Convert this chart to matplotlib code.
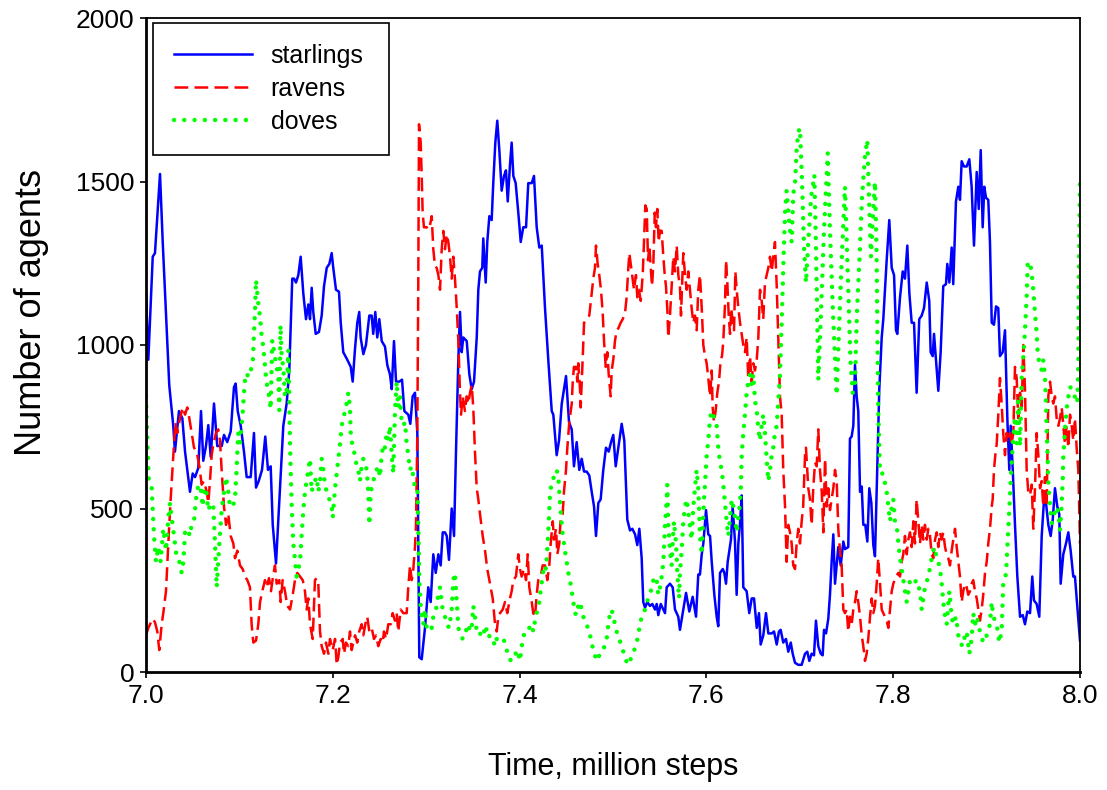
import matplotlib
matplotlib.use('Agg')
import matplotlib.pyplot as plt

# values: (time in million steps, number of agents)
starlings = [
    (7.0000, 1158), (7.0025, 955), (7.0072, 1270), (7.0096, 1281), (7.0150, 1523), (7.0179, 1315), (7.0249, 877), (7.0292, 753), (7.0310, 674), (7.0353, 798),
    (7.0389, 776), (7.0418, 674), (7.0471, 551), (7.0500, 607), (7.0525, 596), (7.0560, 624), (7.0589, 798), (7.0613, 646), (7.0642, 691), (7.0667, 755),
    (7.0693, 658), (7.0728, 821), (7.0763, 691), (7.0811, 691), (7.0835, 725), (7.0870, 703), (7.0907, 736), (7.0942, 871), (7.0960, 882), (7.0982, 798),
    (7.1014, 753), (7.1049, 674), (7.1078, 596), (7.1121, 596), (7.1156, 731), (7.1178, 564), (7.1207, 584), (7.1242, 618), (7.1277, 720), (7.1306, 618),
    (7.1335, 629), (7.1357, 450), (7.1392, 332), (7.1470, 753), (7.1506, 821), (7.1534, 922), (7.1566, 1203), (7.1585, 1203), (7.1606, 1191), (7.1631, 1214),
    (7.1656, 1270), (7.1684, 1158), (7.1713, 1079), (7.1738, 1124), (7.1756, 1079), (7.1774, 1175), (7.1791, 1101), (7.1817, 1034), (7.1852, 1040), (7.1881, 1090),
    (7.1906, 1180), (7.1935, 1236), (7.1963, 1248), (7.1988, 1281), (7.2005, 1236), (7.2034, 1169), (7.2066, 1163), (7.2085, 1068), (7.2112, 978), (7.2155, 955),
    (7.2192, 933), (7.2213, 888), (7.2238, 989), (7.2262, 1068), (7.2283, 1101), (7.2298, 1023), (7.2327, 972), (7.2355, 1000), (7.2391, 1090), (7.2416, 1090),
    (7.2433, 1034), (7.2455, 1101), (7.2476, 1023), (7.2498, 1079), (7.2524, 1012), (7.2559, 995), (7.2584, 938), (7.2612, 910), (7.2631, 865), (7.2655, 1012),
    (7.2677, 888), (7.2712, 888), (7.2741, 894), (7.2766, 798), (7.2808, 787), (7.2830, 759), (7.2855, 843), (7.2880, 854), (7.2905, 731), (7.2915, 393),
    (7.2926, 45), (7.2952, 39), (7.2987, 135), (7.3022, 259), (7.3048, 214), (7.3076, 360), (7.3102, 303), (7.3130, 360), (7.3155, 326), (7.3177, 427),
    (7.3201, 427), (7.3220, 416), (7.3244, 343), (7.3273, 500), (7.3298, 416), (7.3319, 674), (7.3344, 955), (7.3362, 1101), (7.3380, 978), (7.3397, 1023),
    (7.3434, 1012), (7.3462, 910), (7.3487, 865), (7.3512, 888), (7.3541, 1023), (7.3558, 1169), (7.3576, 1225), (7.3600, 1236), (7.3611, 1326), (7.3637, 1191),
    (7.3654, 1315), (7.3676, 1394), (7.3701, 1382), (7.3718, 1495), (7.3740, 1619), (7.3761, 1686), (7.3783, 1596), (7.3808, 1472), (7.3833, 1517), (7.3854, 1534),
    (7.3873, 1439), (7.3897, 1551), (7.3915, 1619), (7.3933, 1517), (7.3958, 1495), (7.3986, 1405), (7.4012, 1315), (7.4039, 1360), (7.4069, 1360), (7.4093, 1495),
    (7.4130, 1495), (7.4154, 1517), (7.4183, 1360), (7.4211, 1298), (7.4237, 1304), (7.4272, 1113), (7.4307, 955), (7.4344, 798), (7.4361, 787), (7.4397, 663),
    (7.4422, 708), (7.4451, 820), (7.4497, 905), (7.4529, 764), (7.4558, 742), (7.4582, 629), (7.4611, 703), (7.4639, 618), (7.4665, 652), (7.4690, 613),
    (7.4718, 613), (7.4746, 601), (7.4772, 551), (7.4797, 506), (7.4818, 416), (7.4843, 517), (7.4868, 528), (7.4896, 618), (7.4925, 686), (7.4954, 674),
    (7.4979, 703), (7.5003, 725), (7.5029, 629), (7.5057, 686), (7.5093, 759), (7.5121, 708), (7.5153, 466), (7.5182, 433), (7.5207, 438), (7.5236, 421),
    (7.5260, 388), (7.5282, 438), (7.5307, 348), (7.5324, 214), (7.5343, 197), (7.5367, 214), (7.5396, 202), (7.5421, 208), (7.5450, 191), (7.5468, 208),
    (7.5485, 174), (7.5511, 208), (7.5539, 191), (7.5557, 180), (7.5575, 259), (7.5610, 270), (7.5639, 259), (7.5664, 191), (7.5699, 169), (7.5717, 129),
    (7.5753, 191), (7.5782, 242), (7.5817, 185), (7.5853, 230), (7.5889, 169), (7.5913, 298), (7.5931, 298), (7.5950, 360), (7.5967, 393), (7.5996, 495),
    (7.6020, 421), (7.6039, 416), (7.6057, 337), (7.6085, 236), (7.6110, 169), (7.6127, 140), (7.6146, 303), (7.6175, 315), (7.6192, 303), (7.6210, 270),
    (7.6228, 337), (7.6245, 371), (7.6263, 405), (7.6281, 506), (7.6306, 399), (7.6324, 236), (7.6342, 393), (7.6360, 455), (7.6378, 540), (7.6395, 259),
    (7.6431, 247), (7.6459, 180), (7.6485, 225), (7.6510, 225), (7.6539, 135), (7.6563, 180), (7.6581, 84), (7.6609, 112), (7.6638, 180), (7.6663, 118),
    (7.6699, 118), (7.6724, 124), (7.6753, 84), (7.6777, 124), (7.6795, 129), (7.6823, 90), (7.6852, 101), (7.6877, 62), (7.6903, 90), (7.6924, 56),
    (7.6949, 28), (7.6984, 22), (7.7020, 22), (7.7056, 56), (7.7080, 62), (7.7102, 34), (7.7127, 56), (7.7152, 51), (7.7173, 157), (7.7198, 79),
    (7.7224, 56), (7.7245, 51), (7.7259, 129), (7.7281, 118), (7.7305, 163), (7.7323, 236), (7.7341, 337), (7.7359, 421), (7.7377, 270), (7.7412, 382),
    (7.7438, 326), (7.7466, 399), (7.7484, 376), (7.7519, 382), (7.7537, 714), (7.7555, 720), (7.7573, 753), (7.7591, 939), (7.7609, 843), (7.7626, 798),
    (7.7645, 551), (7.7663, 567), (7.7680, 450), (7.7701, 450), (7.7723, 399), (7.7744, 562), (7.7766, 517), (7.7787, 388), (7.7805, 354), (7.7823, 551),
    (7.7851, 865), (7.7877, 1023), (7.7894, 1079), (7.7930, 1259), (7.7958, 1382), (7.7984, 1236), (7.8009, 1214), (7.8030, 1045), (7.8044, 1034), (7.8073, 1146),
    (7.8102, 1225), (7.8126, 1203), (7.8151, 1304), (7.8173, 1158), (7.8198, 1068), (7.8223, 1068), (7.8251, 854), (7.8279, 1079), (7.8305, 1090), (7.8330, 1113),
    (7.8359, 1191), (7.8386, 1135), (7.8401, 978), (7.8423, 966), (7.8437, 1034), (7.8458, 955), (7.8483, 860), (7.8508, 978), (7.8536, 1180), (7.8565, 1186),
    (7.8579, 1248), (7.8601, 1191), (7.8626, 1298), (7.8643, 1186), (7.8672, 1439), (7.8697, 1484), (7.8715, 1444), (7.8733, 1562), (7.8758, 1546), (7.8787, 1546),
    (7.8815, 1568), (7.8840, 1484), (7.8865, 1304), (7.8894, 1529), (7.8916, 1416), (7.8937, 1596), (7.8958, 1360), (7.8975, 1484), (7.8994, 1450), (7.9018, 1444),
    (7.9036, 1315), (7.9055, 1068), (7.9079, 1062), (7.9101, 1118), (7.9125, 1113), (7.9143, 966), (7.9172, 978), (7.9197, 1045), (7.9222, 776), (7.9243, 618),
    (7.9258, 753), (7.9280, 618), (7.9304, 450), (7.9329, 292), (7.9358, 169), (7.9387, 174), (7.9411, 146), (7.9436, 185), (7.9465, 180), (7.9489, 292),
    (7.9507, 219), (7.9536, 208), (7.9564, 169), (7.9590, 416), (7.9615, 528), (7.9636, 517), (7.9661, 450), (7.9686, 416), (7.9708, 466), (7.9732, 562),
    (7.9757, 506), (7.9778, 483), (7.9793, 270), (7.9821, 360), (7.9850, 393), (7.9875, 427), (7.9900, 371), (7.9928, 292), (7.9946, 292), (7.9971, 202),
    (8.0000, 96),
]

ravens = [
    (7.0000, 112), (7.0025, 135), (7.0072, 163), (7.0096, 152), (7.0121, 124), (7.0142, 67), (7.0168, 146), (7.0185, 180), (7.0214, 247), (7.0239, 393),
    (7.0264, 528), (7.0292, 663), (7.0314, 764), (7.0335, 731), (7.0364, 776), (7.0393, 809), (7.0418, 787), (7.0442, 809), (7.0464, 776), (7.0489, 731),
    (7.0514, 686), (7.0543, 674), (7.0571, 629), (7.0596, 573), (7.0621, 584), (7.0650, 551), (7.0667, 517), (7.0685, 584), (7.0703, 663), (7.0721, 697),
    (7.0749, 731), (7.0774, 742), (7.0792, 708), (7.0810, 618), (7.0835, 506), (7.0857, 450), (7.0881, 483), (7.0907, 416), (7.0935, 393), (7.0953, 348),
    (7.0978, 371), (7.1006, 326), (7.1035, 315), (7.1060, 292), (7.1085, 281), (7.1113, 259), (7.1131, 146), (7.1149, 90), (7.1178, 96), (7.1202, 146),
    (7.1221, 214), (7.1245, 247), (7.1274, 281), (7.1292, 259), (7.1317, 287), (7.1338, 247), (7.1363, 298), (7.1381, 326), (7.1399, 270), (7.1427, 281),
    (7.1442, 214), (7.1463, 281), (7.1488, 247), (7.1513, 202), (7.1542, 191), (7.1571, 236), (7.1595, 281), (7.1620, 303), (7.1649, 292), (7.1678, 281),
    (7.1702, 247), (7.1720, 191), (7.1738, 225), (7.1756, 146), (7.1785, 101), (7.1809, 281), (7.1828, 287), (7.1845, 270), (7.1863, 124), (7.1881, 79),
    (7.1906, 56), (7.1927, 90), (7.1952, 56), (7.1970, 101), (7.1999, 67), (7.2024, 101), (7.2042, 22), (7.2059, 45), (7.2077, 90), (7.2106, 101),
    (7.2120, 56), (7.2141, 90), (7.2166, 79), (7.2184, 124), (7.2202, 67), (7.2238, 112), (7.2262, 90), (7.2283, 124), (7.2309, 146), (7.2327, 112),
    (7.2355, 157), (7.2369, 169), (7.2391, 124), (7.2416, 135), (7.2441, 101), (7.2463, 112), (7.2487, 79), (7.2513, 101), (7.2534, 90), (7.2548, 124),
    (7.2570, 101), (7.2594, 146), (7.2620, 146), (7.2641, 180), (7.2666, 157), (7.2684, 180), (7.2701, 124), (7.2727, 191), (7.2755, 180), (7.2791, 180),
    (7.2808, 259), (7.2827, 326), (7.2845, 281), (7.2862, 315), (7.2880, 382), (7.2891, 450), (7.2905, 731), (7.2915, 1180), (7.2923, 1675), (7.2941, 1619),
    (7.2952, 1517), (7.2962, 1405), (7.2976, 1360), (7.3005, 1360), (7.3033, 1354), (7.3059, 1394), (7.3076, 1293), (7.3094, 1242), (7.3112, 1236), (7.3130, 1214),
    (7.3148, 1169), (7.3166, 1293), (7.3183, 1349), (7.3201, 1293), (7.3220, 1338), (7.3237, 1315), (7.3255, 1270), (7.3273, 1203), (7.3290, 1270), (7.3308, 1203),
    (7.3327, 1113), (7.3344, 1012), (7.3362, 854), (7.3373, 787), (7.3391, 843), (7.3415, 798), (7.3434, 843), (7.3451, 821), (7.3469, 854), (7.3487, 877),
    (7.3504, 809), (7.3522, 674), (7.3541, 562), (7.3558, 528), (7.3576, 483), (7.3605, 416), (7.3630, 371), (7.3654, 315), (7.3683, 270), (7.3712, 225),
    (7.3737, 146), (7.3755, 124), (7.3772, 169), (7.3790, 180), (7.3819, 191), (7.3844, 214), (7.3868, 180), (7.3897, 225), (7.3915, 247), (7.3933, 281),
    (7.3961, 292), (7.3986, 360), (7.4004, 315), (7.4022, 292), (7.4047, 315), (7.4069, 281), (7.4087, 360), (7.4104, 259), (7.4130, 214), (7.4146, 180),
    (7.4165, 169), (7.4183, 236), (7.4200, 281), (7.4226, 292), (7.4247, 326), (7.4272, 326), (7.4297, 281), (7.4318, 326), (7.4333, 393), (7.4355, 461),
    (7.4368, 405), (7.4390, 438), (7.4404, 360), (7.4425, 393), (7.4440, 472), (7.4461, 483), (7.4475, 551), (7.4497, 618), (7.4511, 686), (7.4532, 764),
    (7.4558, 820), (7.4569, 888), (7.4582, 933), (7.4604, 933), (7.4618, 888), (7.4628, 944), (7.4647, 865), (7.4654, 809), (7.4675, 955), (7.4690, 1068),
    (7.4718, 1079), (7.4746, 1090), (7.4772, 1158), (7.4789, 1203), (7.4807, 1236), (7.4818, 1304), (7.4836, 1248), (7.4853, 1214), (7.4871, 1169), (7.4889, 1102),
    (7.4904, 1012), (7.4922, 933), (7.4939, 978), (7.4954, 910), (7.4975, 843), (7.4986, 922), (7.5003, 955), (7.5021, 1012), (7.5039, 1045), (7.5057, 1051),
    (7.5082, 1068), (7.5104, 1079), (7.5128, 1096), (7.5146, 1146), (7.5164, 1236), (7.5175, 1281), (7.5190, 1248), (7.5211, 1203), (7.5225, 1169), (7.5246, 1214),
    (7.5260, 1146), (7.5278, 1169), (7.5297, 1135), (7.5318, 1214), (7.5332, 1315), (7.5346, 1427), (7.5361, 1416), (7.5375, 1259), (7.5389, 1304), (7.5404, 1236),
    (7.5418, 1180), (7.5432, 1248), (7.5447, 1405), (7.5460, 1360), (7.5474, 1416), (7.5489, 1315), (7.5503, 1350), (7.5521, 1349), (7.5539, 1270), (7.5554, 1214),
    (7.5567, 1180), (7.5581, 1113), (7.5592, 1023), (7.5610, 1090), (7.5628, 1180), (7.5646, 1270), (7.5664, 1225), (7.5682, 1304), (7.5699, 1214), (7.5717, 1180),
    (7.5728, 1090), (7.5742, 1203), (7.5753, 1281), (7.5771, 1214), (7.5789, 1169), (7.5806, 1225), (7.5824, 1169), (7.5842, 1113), (7.5860, 1068), (7.5878, 1090),
    (7.5896, 1045), (7.5913, 1169), (7.5931, 1214), (7.5950, 1113), (7.5967, 1000), (7.5985, 966), (7.6003, 944), (7.6020, 899), (7.6039, 843), (7.6057, 922),
    (7.6067, 809), (7.6081, 764), (7.6099, 798), (7.6117, 854), (7.6135, 888), (7.6153, 955), (7.6167, 966), (7.6181, 1012), (7.6199, 1124), (7.6210, 1259),
    (7.6224, 1191), (7.6239, 1090), (7.6253, 1034), (7.6267, 1113), (7.6281, 1068), (7.6296, 1045), (7.6310, 1225), (7.6324, 1169), (7.6342, 1113), (7.6360, 1068),
    (7.6378, 1034), (7.6395, 1000), (7.6413, 978), (7.6431, 1023), (7.6448, 899), (7.6467, 966), (7.6485, 888), (7.6502, 944), (7.6520, 922), (7.6539, 955),
    (7.6556, 1023), (7.6574, 1169), (7.6592, 1135), (7.6609, 1079), (7.6627, 1191), (7.6645, 1214), (7.6663, 1236), (7.6681, 1270), (7.6699, 1225), (7.6716, 1270),
    (7.6734, 1315), (7.6753, 1180), (7.6770, 1012), (7.6788, 843), (7.6806, 787), (7.6823, 618), (7.6842, 506), (7.6859, 337), (7.6877, 450), (7.6895, 427),
    (7.6913, 393), (7.6930, 326), (7.6949, 315), (7.6966, 393), (7.6984, 438), (7.7002, 393), (7.7020, 461), (7.7036, 506), (7.7056, 663), (7.7066, 686),
    (7.7080, 618), (7.7091, 562), (7.7109, 528), (7.7127, 450), (7.7144, 562), (7.7163, 640), (7.7181, 629), (7.7198, 742), (7.7216, 618), (7.7235, 551),
    (7.7252, 427), (7.7270, 652), (7.7288, 506), (7.7305, 562), (7.7323, 495), (7.7341, 528), (7.7359, 562), (7.7377, 618), (7.7395, 584), (7.7412, 438),
    (7.7430, 371), (7.7448, 326), (7.7466, 191), (7.7484, 180), (7.7502, 191), (7.7519, 124), (7.7537, 169), (7.7555, 146), (7.7573, 191), (7.7591, 214),
    (7.7609, 247), (7.7626, 214), (7.7645, 169), (7.7663, 112), (7.7680, 79), (7.7698, 34), (7.7716, 56), (7.7733, 101), (7.7752, 169), (7.7770, 225),
    (7.7787, 180), (7.7805, 202), (7.7823, 270), (7.7840, 348), (7.7859, 270), (7.7877, 191), (7.7894, 180), (7.7912, 169), (7.7930, 157), (7.7948, 135),
    (7.7966, 191), (7.7984, 247), (7.8001, 270), (7.8030, 292), (7.8055, 303), (7.8073, 292), (7.8091, 337), (7.8108, 360), (7.8126, 416), (7.8145, 360),
    (7.8162, 405), (7.8180, 427), (7.8198, 382), (7.8216, 461), (7.8233, 393), (7.8251, 528), (7.8269, 461), (7.8287, 393), (7.8305, 450), (7.8322, 405),
    (7.8340, 450), (7.8359, 405), (7.8376, 438), (7.8394, 416), (7.8412, 360), (7.8429, 348), (7.8448, 405), (7.8466, 427), (7.8483, 382), (7.8501, 427),
    (7.8519, 405), (7.8536, 427), (7.8555, 382), (7.8573, 360), (7.8590, 348), (7.8608, 326), (7.8626, 371), (7.8643, 405), (7.8662, 438), (7.8680, 382),
    (7.8697, 337), (7.8715, 292), (7.8733, 214), (7.8750, 247), (7.8769, 270), (7.8787, 259), (7.8804, 236), (7.8822, 247), (7.8840, 270), (7.8857, 281),
    (7.8876, 247), (7.8894, 225), (7.8911, 191), (7.8929, 157), (7.8947, 191), (7.8964, 236), (7.8983, 303), (7.9001, 337), (7.9018, 393), (7.9036, 438),
    (7.9055, 506), (7.9065, 528), (7.9079, 618), (7.9093, 663), (7.9108, 697), (7.9125, 787), (7.9143, 899), (7.9161, 821), (7.9178, 731), (7.9197, 663),
    (7.9215, 731), (7.9232, 708), (7.9251, 731), (7.9268, 697), (7.9286, 731), (7.9304, 933), (7.9322, 899), (7.9339, 776), (7.9358, 854), (7.9376, 809),
    (7.9393, 1000), (7.9411, 865), (7.9429, 618), (7.9446, 551), (7.9465, 540), (7.9483, 573), (7.9500, 438), (7.9518, 562), (7.9536, 731), (7.9554, 663),
    (7.9572, 562), (7.9590, 584), (7.9607, 506), (7.9625, 596), (7.9643, 506), (7.9661, 843), (7.9679, 888), (7.9697, 843), (7.9714, 821), (7.9732, 843),
    (7.9750, 776), (7.9768, 753), (7.9786, 776), (7.9804, 809), (7.9821, 753), (7.9839, 697), (7.9857, 753), (7.9875, 686), (7.9893, 787), (7.9911, 753),
    (7.9928, 708), (7.9946, 776), (7.9964, 686), (7.9982, 618), (8.0000, 393),
]

doves = [
    (7.0000, 843), (7.0015, 700), (7.0030, 590), (7.0061, 562), (7.0086, 416), (7.0107, 337), (7.0132, 382), (7.0157, 337), (7.0185, 438), (7.0214, 371),
    (7.0239, 472), (7.0257, 517), (7.0275, 472), (7.0300, 416), (7.0329, 348), (7.0357, 337), (7.0382, 303), (7.0400, 337), (7.0418, 427), (7.0442, 438),
    (7.0471, 416), (7.0488, 450), (7.0514, 461), (7.0535, 528), (7.0560, 573), (7.0586, 562), (7.0607, 506), (7.0621, 562), (7.0642, 562), (7.0667, 494),
    (7.0693, 517), (7.0721, 506), (7.0739, 393), (7.0757, 259), (7.0785, 393), (7.0810, 494), (7.0835, 551), (7.0857, 596), (7.0881, 551), (7.0899, 506),
    (7.0928, 506), (7.0953, 528), (7.0970, 618), (7.0987, 731), (7.1006, 700), (7.1035, 792), (7.1049, 853), (7.1060, 893), (7.1078, 914), (7.1095, 902),
    (7.1121, 923), (7.1142, 939), (7.1148, 975), (7.1156, 1036), (7.1167, 1101), (7.1178, 1199), (7.1202, 1128), (7.1221, 1086), (7.1239, 1024), (7.1256, 994),
    (7.1274, 933), (7.1285, 899), (7.1299, 872), (7.1320, 841), (7.1335, 804), (7.1352, 1015), (7.1381, 963), (7.1399, 933), (7.1417, 902), (7.1427, 801),
    (7.1440, 1061), (7.1453, 963), (7.1470, 933), (7.1488, 841), (7.1506, 862), (7.1524, 985), (7.1535, 810), (7.1542, 700), (7.1549, 618), (7.1560, 506),
    (7.1577, 393), (7.1613, 292), (7.1649, 337), (7.1666, 416), (7.1684, 494), (7.1702, 551), (7.1720, 584), (7.1738, 618), (7.1756, 652), (7.1774, 551),
    (7.1791, 573), (7.1827, 596), (7.1845, 551), (7.1863, 584), (7.1881, 652), (7.1899, 618), (7.1916, 573), (7.1935, 551), (7.1963, 528), (7.1988, 506),
    (7.1999, 472), (7.2024, 562), (7.2042, 607), (7.2059, 652), (7.2077, 697), (7.2095, 753), (7.2112, 776), (7.2141, 809), (7.2166, 854), (7.2184, 809),
    (7.2192, 731), (7.2213, 686), (7.2238, 663), (7.2256, 629), (7.2273, 618), (7.2291, 584), (7.2309, 629), (7.2327, 652), (7.2345, 640), (7.2363, 618),
    (7.2380, 551), (7.2391, 450), (7.2406, 551), (7.2434, 584), (7.2452, 607), (7.2470, 618), (7.2487, 629), (7.2505, 596), (7.2523, 663), (7.2541, 697),
    (7.2559, 686), (7.2577, 731), (7.2594, 708), (7.2612, 753), (7.2631, 663), (7.2648, 607), (7.2666, 799), (7.2684, 888), (7.2701, 809), (7.2719, 843),
    (7.2737, 765), (7.2755, 753), (7.2773, 764), (7.2791, 697), (7.2808, 663), (7.2827, 618), (7.2845, 629), (7.2862, 596), (7.2880, 562), (7.2905, 562),
    (7.2915, 450), (7.2926, 281), (7.2941, 202), (7.2952, 169), (7.2969, 146), (7.2987, 191), (7.3005, 135), (7.3033, 146), (7.3059, 135), (7.3076, 169),
    (7.3105, 191), (7.3130, 236), (7.3148, 259), (7.3176, 191), (7.3201, 169), (7.3220, 146), (7.3247, 135), (7.3273, 191), (7.3290, 281), (7.3308, 303),
    (7.3327, 214), (7.3344, 135), (7.3369, 112), (7.3391, 101), (7.3415, 112), (7.3434, 135), (7.3451, 146), (7.3469, 124), (7.3487, 135), (7.3504, 202),
    (7.3522, 169), (7.3541, 124), (7.3569, 112), (7.3594, 124), (7.3611, 135), (7.3630, 112), (7.3648, 135), (7.3665, 124), (7.3683, 101), (7.3712, 101),
    (7.3737, 79), (7.3755, 101), (7.3783, 101), (7.3808, 90), (7.3833, 96), (7.3862, 67), (7.3890, 39), (7.3915, 34), (7.3940, 39), (7.3969, 67),
    (7.3986, 56), (7.4004, 34), (7.4033, 101), (7.4058, 124), (7.4082, 124), (7.4104, 135), (7.4130, 146), (7.4146, 124), (7.4165, 157), (7.4183, 180),
    (7.4211, 214), (7.4229, 259), (7.4247, 292), (7.4261, 326), (7.4283, 315), (7.4307, 427), (7.4325, 540), (7.4344, 584), (7.4368, 596), (7.4397, 618),
    (7.4414, 596), (7.4433, 517), (7.4451, 450), (7.4468, 405), (7.4486, 371), (7.4504, 337), (7.4522, 303), (7.4540, 281), (7.4558, 247), (7.4575, 214),
    (7.4593, 180), (7.4611, 174), (7.4628, 202), (7.4647, 214), (7.4665, 191), (7.4682, 169), (7.4718, 146), (7.4754, 112), (7.4789, 67), (7.4825, 34),
    (7.4861, 56), (7.4896, 67), (7.4932, 101), (7.4950, 146), (7.4968, 180), (7.4986, 191), (7.5003, 169), (7.5021, 146), (7.5039, 124), (7.5067, 101),
    (7.5093, 79), (7.5128, 45), (7.5157, 22), (7.5182, 34), (7.5211, 56), (7.5236, 73), (7.5253, 90), (7.5270, 112), (7.5289, 146), (7.5307, 169),
    (7.5324, 180), (7.5343, 191), (7.5361, 214), (7.5378, 225), (7.5396, 236), (7.5414, 259), (7.5432, 281), (7.5450, 292), (7.5468, 281), (7.5485, 236),
    (7.5503, 259), (7.5521, 292), (7.5539, 337), (7.5557, 450), (7.5575, 528), (7.5581, 573), (7.5592, 450), (7.5610, 371), (7.5628, 326), (7.5639, 393),
    (7.5653, 461), (7.5675, 393), (7.5689, 303), (7.5707, 225), (7.5717, 303), (7.5735, 371), (7.5753, 461), (7.5771, 506), (7.5789, 528), (7.5817, 461),
    (7.5842, 405), (7.5860, 506), (7.5878, 562), (7.5896, 618), (7.5913, 562), (7.5931, 416), (7.5950, 360), (7.5961, 438), (7.5974, 528), (7.5985, 573),
    (7.6003, 663), (7.6020, 708), (7.6039, 776), (7.6057, 798), (7.6074, 787), (7.6092, 764), (7.6110, 753), (7.6127, 686), (7.6146, 640), (7.6164, 618),
    (7.6181, 573), (7.6199, 517), (7.6217, 461), (7.6234, 416), (7.6253, 472), (7.6271, 528), (7.6288, 506), (7.6306, 472), (7.6324, 427), (7.6342, 472),
    (7.6360, 517), (7.6370, 573), (7.6378, 663), (7.6395, 731), (7.6413, 787), (7.6431, 854), (7.6448, 888), (7.6467, 910), (7.6485, 877), (7.6502, 910),
    (7.6520, 831), (7.6539, 798), (7.6556, 742), (7.6574, 708), (7.6592, 753), (7.6609, 787), (7.6627, 731), (7.6645, 652), (7.6663, 584), (7.6681, 618),
    (7.6699, 663), (7.6716, 686), (7.6734, 731), (7.6753, 753), (7.6770, 831), (7.6788, 910), (7.6806, 1068), (7.6823, 1236), (7.6842, 1405), (7.6859, 1472),
    (7.6877, 1405), (7.6895, 1349), (7.6913, 1315), (7.6930, 1461), (7.6949, 1495), (7.6966, 1596), (7.6984, 1652), (7.7002, 1663), (7.7024, 1500), (7.7045, 1300),
    (7.7066, 1190), (7.7088, 1300), (7.7120, 1450), (7.7156, 1520), (7.7173, 1300), (7.7198, 893), (7.7227, 1100), (7.7259, 1350), (7.7299, 1587), (7.7323, 1350),
    (7.7355, 1100), (7.7395, 847), (7.7420, 1050), (7.7447, 1250), (7.7484, 1484), (7.7516, 1200), (7.7543, 950), (7.7566, 853), (7.7591, 880), (7.7612, 1100),
    (7.7637, 1250), (7.7666, 1450), (7.7698, 1580), (7.7723, 1627), (7.7741, 1450), (7.7762, 1270), (7.7784, 1400), (7.7805, 1499), (7.7821, 1300), (7.7840, 801),
    (7.7859, 607), (7.7891, 607), (7.7930, 551), (7.7948, 506), (7.7966, 461), (7.7984, 506), (7.8001, 528), (7.8019, 461), (7.8037, 450), (7.8055, 393),
    (7.8073, 348), (7.8091, 315), (7.8108, 281), (7.8126, 247), (7.8145, 214), (7.8162, 247), (7.8180, 281), (7.8216, 270), (7.8251, 281), (7.8287, 247),
    (7.8305, 191), (7.8340, 259), (7.8376, 292), (7.8412, 348), (7.8437, 382), (7.8458, 360), (7.8483, 337), (7.8501, 315), (7.8519, 270), (7.8536, 214),
    (7.8555, 169), (7.8573, 146), (7.8601, 247), (7.8626, 169), (7.8643, 146), (7.8672, 169), (7.8697, 112), (7.8715, 90), (7.8744, 79), (7.8769, 112),
    (7.8787, 124), (7.8815, 56), (7.8840, 101), (7.8857, 180), (7.8876, 146), (7.8894, 169), (7.8929, 124), (7.8964, 90), (7.9001, 112), (7.9036, 146),
    (7.9055, 214), (7.9072, 169), (7.9108, 146), (7.9136, 90), (7.9161, 124), (7.9178, 272), (7.9208, 300), (7.9232, 434), (7.9251, 535), (7.9268, 639),
    (7.9286, 719), (7.9304, 780), (7.9322, 700), (7.9339, 841), (7.9358, 690), (7.9376, 902), (7.9393, 963), (7.9411, 1046), (7.9429, 1147), (7.9440, 1250),
    (7.9465, 1254), (7.9483, 1219), (7.9500, 1168), (7.9518, 1098), (7.9536, 1036), (7.9547, 975), (7.9564, 944), (7.9590, 923), (7.9607, 954), (7.9625, 902),
    (7.9636, 822), (7.9643, 740), (7.9650, 689), (7.9655, 639), (7.9661, 578), (7.9672, 535), (7.9686, 486), (7.9697, 455), (7.9714, 474), (7.9750, 505),
    (7.9768, 486), (7.9786, 434), (7.9804, 516), (7.9815, 587), (7.9821, 657), (7.9839, 740), (7.9850, 780), (7.9864, 822), (7.9893, 872), (7.9921, 862),
    (7.9946, 841), (7.9971, 822), (7.9982, 944), (7.9986, 1147), (7.9993, 1330), (8.0000, 1520),
]

x_ticks = [7.0, 7.2, 7.4, 7.6, 7.8, 8.0]
y_ticks = [0, 500, 1000, 1500, 2000]

plt.rcParams['font.family'] = ['Liberation Sans', 'DejaVu Sans']

fig = plt.figure(figsize=(11.07, 7.90), dpi=100)
ax = fig.add_axes([146 / 1107, 1 - 672 / 790, (1080 - 146) / 1107, (672 - 18) / 790])

t, n = zip(*starlings)
ax.plot(t, n, color='#0000ff', lw=1.8, label='starlings')
t, n = zip(*ravens)
ax.plot(t, n, color='#ff0000', lw=1.8, ls=(0, (5.5, 2.5)), label='ravens')
t, n = zip(*doves)
ax.plot(t, n, color='#00ff00', lw=3.2, ls=(0, (0.01, 2.3)), dash_capstyle='round', label='doves')

ax.set_xlim(7.0, 8.0)
ax.set_ylim(0, 2000)
ax.set_xticks(x_ticks)
ax.set_xticklabels(['%.1f' % v for v in x_ticks])
ax.set_yticks(y_ticks)
ax.tick_params(direction='out', length=4.5, width=1.2, labelsize=19, pad=4)
for side in ['top', 'right']:
    ax.spines[side].set_linewidth(1.3)
for side in ['left', 'bottom']:
    ax.spines[side].set_linewidth(2.0)

ax.set_xlabel('Time, million steps', fontsize=22)
ax.xaxis.set_label_coords(0.5, -0.123)
ax.set_ylabel('Number of agents', fontsize=26)
ax.yaxis.set_label_coords(-0.104, 0.55)

# legend frame spans a fixed box in the upper-left corner, as in the reference
leg = ax.legend(loc='upper left', bbox_to_anchor=(0.0075, 0.5, 0.2527, 0.4924), mode='expand',
                fontsize=18, fancybox=False, edgecolor='black', framealpha=1,
                borderaxespad=0, borderpad=0.85, handlelength=3.1,
                handletextpad=0.75, labelspacing=0.35)
leg.get_frame().set_linewidth(1.2)

fig.savefig('out.png', dpi=100)
